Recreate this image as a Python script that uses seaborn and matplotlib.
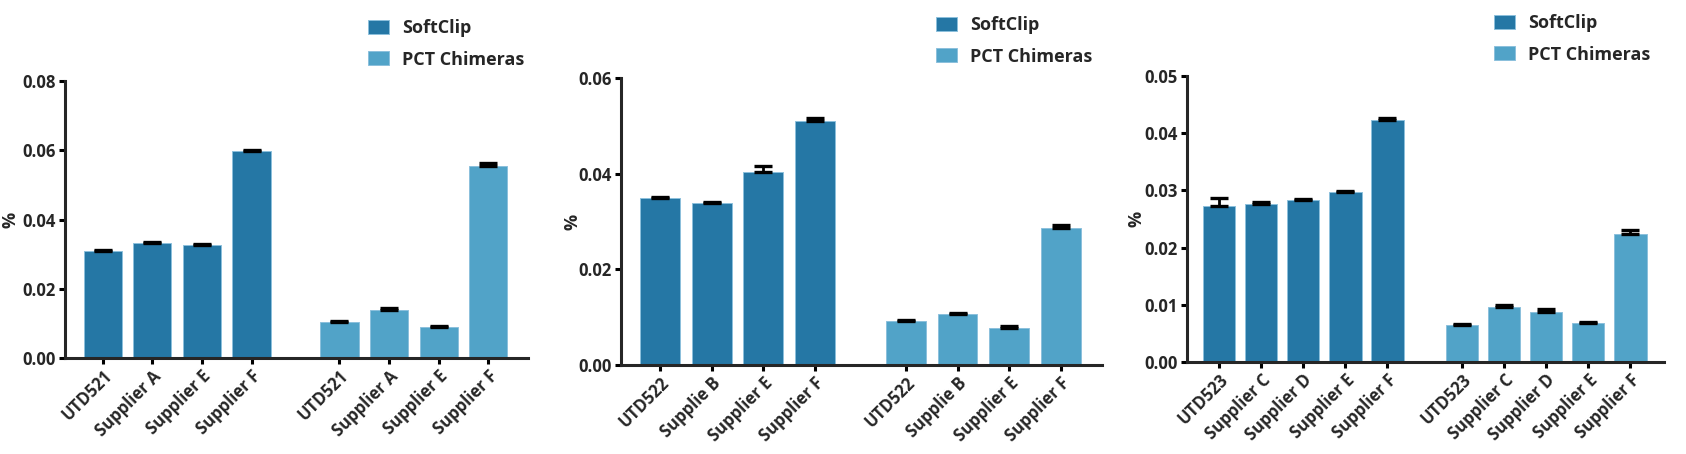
import numpy as np
import pandas as pd
import seaborn as sns
import matplotlib.pyplot as plt
from matplotlib.patches import Patch
from matplotlib.ticker import FormatStrFormatter, MultipleLocator

# ---- data ----
p1_labels = ["UTD521", "Supplier A", "Supplier E", "Supplier F"]
p1_softclip = [0.0310, 0.0331, 0.0325, 0.0597]
p1_softclip_err = [0.0003, 0.0003, 0.0004, 0.0003]
p1_chimeras = [0.0105, 0.0139, 0.0089, 0.0554]
p1_chimeras_err = [0.0002, 0.0004, 0.0002, 0.0009]

p2_labels = ["UTD522", "Supplie B", "Supplier E", "Supplier F"]
p2_softclip = [0.0349, 0.0339, 0.0404, 0.0510]
p2_softclip_err = [0.0002, 0.0002, 0.0012, 0.0007]
p2_chimeras = [0.0092, 0.0106, 0.0078, 0.0286]
p2_chimeras_err = [0.0003, 0.0002, 0.0004, 0.0006]

p3_labels = ["UTD523", "Supplier C", "Supplier D", "Supplier E", "Supplier F"]
p3_softclip = [0.0272, 0.0277, 0.0283, 0.0297, 0.0423]
p3_softclip_err = [0.0014, 0.0003, 0.0002, 0.0002, 0.0003]
p3_chimeras = [0.0064, 0.0097, 0.0087, 0.0068, 0.0223]
p3_chimeras_err = [0.0002, 0.0002, 0.0006, 0.0002, 0.0007]

series = ["SoftClip", "PCT Chimeras"]
colors = {"SoftClip": "#2577a5", "PCT Chimeras": "#51a3c8"}

panels = [
    (p1_labels, p1_softclip, p1_softclip_err, p1_chimeras, p1_chimeras_err, 0.08, 0.02),
    (p2_labels, p2_softclip, p2_softclip_err, p2_chimeras, p2_chimeras_err, 0.06, 0.02),
    (p3_labels, p3_softclip, p3_softclip_err, p3_chimeras, p3_chimeras_err, 0.05, 0.01),
]

# axes boxes in pixels (left, right, top, bottom) and legend anchors
W, H = 1686, 454
boxes = [(65, 528, 81, 358), (621, 1102, 78, 365), (1187, 1664, 76, 362)]
legend_xy = [(368, 19), (936, 16), (1494, 14)]
ylabel_x = [-0.098, -0.082, -0.086]

sns.set_theme(style="ticks")
plt.rcParams['font.family'] = ['Open Sans', 'DejaVu Sans']
plt.rcParams['font.weight'] = 'bold'

fig = plt.figure(figsize=(W / 100, H / 100), dpi=100)

gap = 0.77
for i, (labels, sc, sc_err, ch, ch_err, ymax, ystep) in enumerate(panels):
    l, r, t, b = boxes[i]
    ax = fig.add_axes([l / W, 1 - b / H, (r - l) / W, (b - t) / H])

    n = len(labels)
    pos = list(range(n)) + [n + gap + k for k in range(n)]
    df = pd.DataFrame({
        "pos": pos,
        "value": sc + ch,
        "series": [series[0]] * n + [series[1]] * n,
    })
    sns.barplot(data=df, x="pos", y="value", hue="series", palette=colors,
                native_scale=True, width=0.77, errorbar=None, legend=False,
                saturation=1, edgecolor="#8cc0dc", linewidth=0.7, ax=ax)

    # one-sided (upper) error bars
    errs = sc_err + ch_err
    ax.errorbar(pos, df["value"], yerr=[np.zeros(len(errs)), errs], fmt="none",
                ecolor="black", elinewidth=2.0, capsize=6.5, capthick=2.4, zorder=4)

    ax.set_xlim(-0.76, pos[-1] + 0.8)
    ax.set_ylim(0, ymax)
    ax.yaxis.set_major_locator(MultipleLocator(ystep))
    ax.yaxis.set_major_formatter(FormatStrFormatter('%.2f'))
    ax.set_xticks(pos)
    ax.set_xticklabels(labels + labels, rotation=45, ha="right",
                       rotation_mode="anchor", fontsize=12, fontweight="bold")
    for lab in ax.get_yticklabels():
        lab.set_fontsize(12)
        lab.set_fontweight("bold")

    sns.despine(ax=ax)
    ax.spines["left"].set_linewidth(2.2)
    ax.spines["bottom"].set_linewidth(2.2)
    ax.tick_params(axis="both", width=2.2, length=4.5, color="black", pad=2)

    ax.set_xlabel("")
    ax.set_ylabel("%", fontsize=13, fontweight="bold")
    ax.yaxis.set_label_coords(ylabel_x[i], 0.5)

    handles = [Patch(facecolor=colors[s], edgecolor="#8cc0dc", linewidth=0.7, label=s) for s in series]
    lx, ly = legend_xy[i]
    ax.legend(handles=handles, loc="upper left", bbox_to_anchor=(lx / W, 1 - ly / H),
              bbox_transform=fig.transFigure, frameon=False, borderpad=0, borderaxespad=0,
              handlelength=1.17, handleheight=0.78, handletextpad=0.72, labelspacing=0.75,
              prop={"size": 13, "weight": "bold"})

fig.savefig("out.png", dpi=100)
